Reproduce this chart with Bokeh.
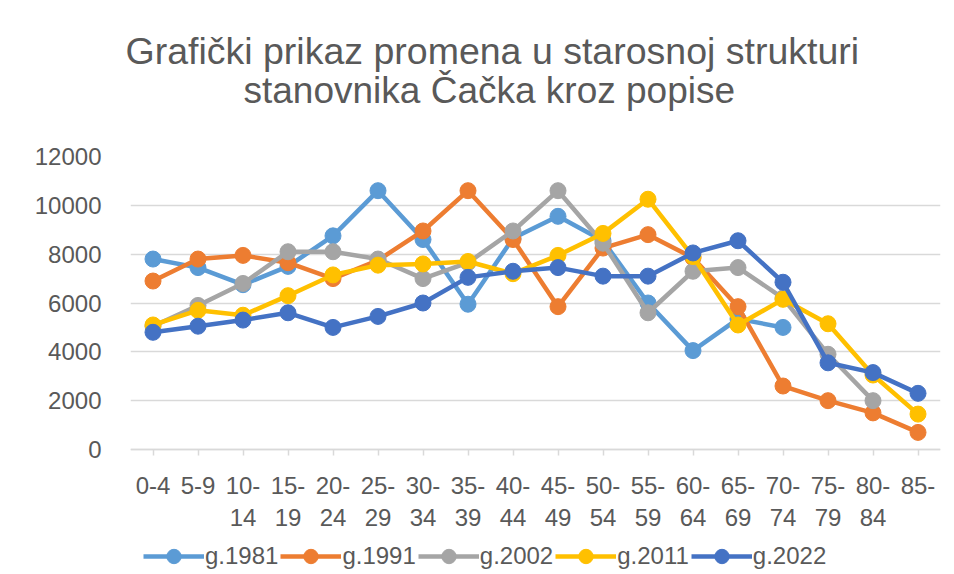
import math
from bokeh.plotting import figure
from bokeh.models import (Range1d, FixedTicker, Title, Legend, LegendItem)
from bokeh.embed import file_html
from bokeh.resources import INLINE

nan = float("nan")

categories = ["0-4", "5-9", "10-14", "15-19", "20-24", "25-29", "30-34", "35-39",
              "40-44", "45-49", "50-54", "55-59", "60-64", "65-69", "70-74",
              "75-79", "80-84", "85-"]
tick_labels = ["0-4", "5-9", "10-\n14", "15-\n19", "20-\n24", "25-\n29", "30-\n34",
               "35-\n39", "40-\n44", "45-\n49", "50-\n54", "55-\n59", "60-\n64",
               "65-\n69", "70-\n74", "75-\n79", "80-\n84", "85-"]

g1981 = [7800, 7450, 6750, 7500, 8750, 10600, 8600, 5950, 8650, 9550, 8550, 6000,
         4050, 5350, 5000, nan, nan, nan]
g1991 = [6900, 7800, 7950, 7650, 7000, 7750, 8950, 10600, 8600, 5850, 8250, 8800,
         7850, 5850, 2600, 2000, 1500, 700]
g2002 = [5050, 5900, 6800, 8100, 8100, 7800, 7000, 7650, 8950, 10600, 8450, 5600,
         7300, 7450, 6200, 3900, 2000, nan]
g2011 = [5100, 5700, 5500, 6300, 7150, 7550, 7600, 7700, 7200, 7950, 8850, 10250,
         7900, 5100, 6150, 5150, 3050, 1450]
g2022 = [4800, 5050, 5300, 5600, 5000, 5450, 6000, 7050, 7300, 7450, 7100, 7100,
         8050, 8550, 6850, 3550, 3150, 2300]

series = [("g.1981", g1981, "#5B9BD5"), ("g.1991", g1991, "#ED7D31"),
          ("g.2002", g2002, "#A5A5A5"), ("g.2011", g2011, "#FFC000"),
          ("g.2022", g2022, "#4472C4")]

y_ticks = [0, 2000, 4000, 6000, 8000, 10000, 12000]

title_line1 = "Grafički prikaz promena u starosnoj strukturi"
title_line2 = "stanovnika Čačka kroz popise"

FONT = "Liberation Sans"
TXT = "#595959"

# frame: top at 156 px (12000), value 0 at 449 px, extended down to 580 px so that
# the category labels and the legend sit inside it
Y_MAX = 12000
PX_PER_UNIT = 293 / Y_MAX
Y_MIN = -(580 - 449) / PX_PER_UNIT

p = figure(frame_width=810, frame_height=424, output_backend="svg", toolbar_location=None,
           x_range=Range1d(-0.5, len(categories) - 0.5), y_range=Range1d(Y_MIN, Y_MAX),
           min_border_left=130, min_border_right=6, min_border_top=156,
           min_border_bottom=0, title=None)
p.outline_line_color = None
p.background_fill_color = "white"
p.border_fill_color = "white"

# "above" panel: first added is closest to the frame
p.add_layout(Title(text=" ", text_font_size="1px", standoff=43), "above")  # spacer
p.add_layout(Title(text=title_line2, align="left", offset=113,
                   text_font=FONT, text_font_size="37px", text_color=TXT,
                   text_font_style="normal", standoff=0), "above")
p.add_layout(Title(text=title_line1, align="left", offset=-5,
                   text_font=FONT, text_font_size="37.5px", text_color=TXT,
                   text_font_style="normal", standoff=-8), "above")

x = list(range(len(categories)))
items = []
for name, vals, col in series:
    r1 = p.line(x, vals, line_color=col, line_width=4.5)
    r2 = p.scatter(x, vals, size=16, fill_color=col, line_color=col, marker="circle")
    items.append(LegendItem(label=name, renderers=[r1, r2]))

legend = Legend(items=items, orientation="horizontal", location=(13, 6),
                label_text_font=FONT, label_text_font_size="24px",
                label_text_color=TXT, border_line_color=None,
                background_fill_alpha=0, padding=0, spacing=2, margin=0,
                glyph_width=61, glyph_height=36, label_standoff=1)
p.add_layout(legend, "center")

xa = p.xaxis[0]
xa.fixed_location = 0
xa.ticker = FixedTicker(ticks=x)
xa.major_label_overrides = {i: t for i, t in enumerate(tick_labels)}
xa.axis_line_color = "#D9D9D9"
xa.axis_line_width = 1.5
xa.major_tick_line_color = "#D9D9D9"
xa.major_tick_line_width = 1.5
xa.major_tick_out = 6
xa.major_tick_in = 0
xa.minor_tick_line_color = None
xa.major_label_text_font = FONT
xa.major_label_text_font_size = "24px"
xa.major_label_text_color = TXT
xa.major_label_standoff = 16

ya = p.yaxis[0]
ya.ticker = FixedTicker(ticks=y_ticks)
ya.axis_line_color = None
ya.major_tick_line_color = None
ya.minor_tick_line_color = None
ya.major_label_text_font = FONT
ya.major_label_text_font_size = "24px"
ya.major_label_text_color = TXT
ya.major_label_standoff = 23

p.xgrid.grid_line_color = None
p.ygrid.ticker = FixedTicker(ticks=y_ticks)
p.ygrid.grid_line_color = "#D9D9D9"
p.ygrid.grid_line_width = 1.5

open("out.html", "w").write(file_html(p, INLINE))
